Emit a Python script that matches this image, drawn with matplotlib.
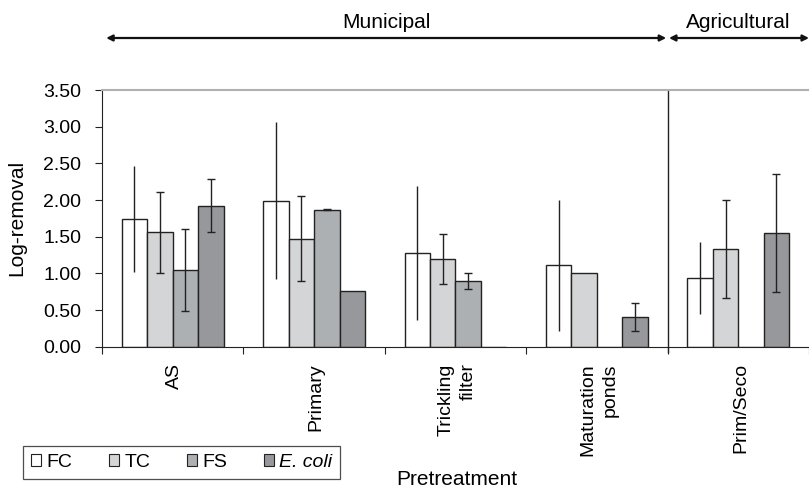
import matplotlib
matplotlib.use("Agg")
import matplotlib.pyplot as plt
from matplotlib.patches import Patch
from matplotlib.transforms import blended_transform_factory
import numpy as np

plt.rcParams['font.family'] = ['Liberation Sans', 'DejaVu Sans']

categories = ["AS", "Primary", "Trickling\nfilter", "Maturation\nponds", "Prim/Seco"]
series = ["FC", "TC", "FS", "E. coli"]
fc = [1.74, 1.99, 1.28, 1.11, 0.94]
tc = [1.56, 1.47, 1.19, 1.00, 1.33]
fs = [1.04, 1.87, 0.89, 0.00, 0.00]
ecoli = [1.92, 0.755, 0.00, 0.40, 1.55]
fc_err = [0.72, 1.07, 0.91, 0.89, 0.49]
tc_err = [0.55, 0.58, 0.34, 0.00, 0.67]
fs_err = [0.56, 0.01, 0.11, 0.00, 0.00]
ecoli_err = [0.36, 0.00, 0.00, 0.19, 0.80]
yticks = [0.0, 0.5, 1.0, 1.5, 2.0, 2.5, 3.0, 3.5]

values = [fc, tc, fs, ecoli]
errs = [fc_err, tc_err, fs_err, ecoli_err]
colors = ["#ffffff", "#d4d5d6", "#adb0b2", "#97989b"]
caps = [0, 3, 3, 3]
edge = "#222222"
FS_TICK = 14
FS_TXT = 15

fig = plt.figure(figsize=(8.09, 4.90), dpi=100)
ax = fig.add_axes([0.126, 0.2925, 0.874, 0.5238])

n = len(categories)
centers = np.arange(n) + 0.5
bw = 0.18
for k in range(4):
    xs = centers + (k - 1.5) * bw
    ax.bar(xs, values[k], width=bw, color=colors[k], edgecolor=edge, linewidth=1.0, zorder=2)
    e = np.array(errs[k])
    mask = e > 0
    ax.errorbar(xs[mask], np.array(values[k])[mask], yerr=e[mask], fmt='none',
                ecolor=edge, elinewidth=1.0, capsize=caps[k], capthick=1.0, zorder=3)

ax.set_xlim(0, n)
ax.set_ylim(0, 3.5)
ax.set_yticks(yticks)
ax.set_yticklabels([f"{v:.2f}" for v in yticks], fontsize=FS_TICK)
ax.set_xticks(np.arange(n + 1))
ax.set_xticklabels([])
ax.set_xticks(centers + 0.015, minor=True)
ax.set_xticklabels(categories, minor=True, rotation=90, ha='center', va='top',
                   multialignment='right', fontsize=FS_TICK, linespacing=1.4)
ax.tick_params(axis='x', which='minor', length=0, pad=12)
ax.tick_params(axis='x', which='major', length=5, direction='out', color=edge)
ax.tick_params(axis='y', length=5, direction='out', color=edge, pad=10)
ax.spines['right'].set_visible(False)
ax.spines['top'].set_color('#b0b0b0')
ax.spines['top'].set_linewidth(1.5)
ax.spines['left'].set_color(edge)
ax.spines['bottom'].set_color(edge)
ax.axvline(4.0, ymin=-0.02, ymax=1.0, color=edge, linewidth=1.0, clip_on=False, zorder=1)
ax.set_ylabel("Log-removal", fontsize=FS_TXT, labelpad=12)

# Top arrows
tr = blended_transform_factory(ax.transData, fig.transFigure)
ya = 1 - 38 / 490
ax.annotate("", xy=(0.03, ya), xytext=(3.99, ya), xycoords=tr, textcoords=tr,
            arrowprops=dict(arrowstyle='<|-|>', color='#111111', lw=1.6,
                            mutation_scale=9, shrinkA=0, shrinkB=0), annotation_clip=False)
ax.annotate("", xy=(4.01, ya), xytext=(5.0, ya), xycoords=tr, textcoords=tr,
            arrowprops=dict(arrowstyle='<|-|>', color='#111111', lw=1.6,
                            mutation_scale=9, shrinkA=0, shrinkB=0), annotation_clip=False)
yt = 1 - 23 / 490
ax.text(2.01, yt, "Municipal", transform=tr, ha='center', va='center', fontsize=FS_TXT)
ax.text(4.5, yt, "Agricultural", transform=tr, ha='center', va='center', fontsize=FS_TXT)

fig.text(457 / 809, 1 - 479 / 490, "Pretreatment", ha='center', va='center', fontsize=FS_TXT)

handles = [Patch(facecolor=colors[k], edgecolor=edge, linewidth=0.8) for k in range(4)]
labels = ["FC", "TC", "FS", "E. coli"]
leg = fig.legend(handles, labels, loc='lower left',
                 bbox_to_anchor=(23 / 809, 1 - 479 / 490, (340 - 23) / 809, (479 - 444) / 490),
                 ncol=4, mode='expand', fontsize=FS_TICK, frameon=True, fancybox=False,
                 handlelength=0.55, handleheight=0.55, handletextpad=0.25,
                 columnspacing=0.8, borderaxespad=0, borderpad=0.4)
leg.get_texts()[3].set_fontstyle('italic')
leg.get_frame().set_edgecolor(edge)
leg.get_frame().set_linewidth(0.9)

fig.savefig("out.png", dpi=100)
